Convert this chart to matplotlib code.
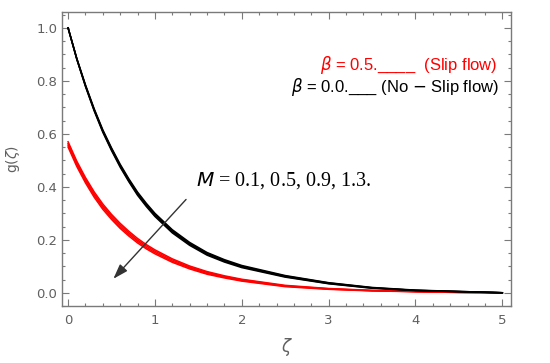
import matplotlib
matplotlib.use("Agg")
import matplotlib.pyplot as plt
from matplotlib.ticker import MultipleLocator

# values
zeta = [0.0, 0.1, 0.2, 0.3, 0.4, 0.5, 0.6, 0.7, 0.8, 0.9, 1.0,
        1.2, 1.4, 1.6, 1.8, 2.0, 2.5, 3.0, 3.5, 4.0, 4.5, 5.0]
m_values = [0.1, 0.5, 0.9, 1.3]

# beta = 0.0 (no-slip flow), one list per M
g_noslip = [
    [1.0, .885, .785, .695, .615, .547, .485, .430, .380, .338, .300,
     .238, .190, .152, .125, .103, .065, .038, .020, .010, .005, 0.0],
    [1.0, .884, .783, .692, .612, .544, .481, .426, .376, .334, .296,
     .234, .186, .149, .122, .100, .063, .037, .019, .009, .005, 0.0],
    [1.0, .883, .781, .690, .609, .540, .478, .422, .372, .330, .292,
     .230, .183, .145, .119, .098, .061, .035, .018, .009, .004, 0.0],
    [1.0, .882, .779, .687, .606, .537, .474, .419, .368, .326, .288,
     .226, .179, .142, .116, .095, .059, .034, .017, .008, .004, 0.0],
]

# beta = 0.5 (slip flow), one list per M
g_slip = [
    [.570, .497, .435, .381, .335, .296, .262, .232, .205, .182, .162,
     .128, .101, .080, .064, .051, .028, .016, .009, .005, .002, 0.0],
    [.563, .490, .428, .374, .328, .290, .256, .226, .199, .177, .157,
     .124, .097, .077, .061, .049, .026, .015, .008, .005, .002, 0.0],
    [.557, .484, .422, .368, .322, .283, .249, .220, .194, .171, .152,
     .119, .094, .073, .059, .046, .025, .014, .008, .004, .001, 0.0],
    [.550, .477, .415, .361, .315, .277, .243, .214, .188, .166, .147,
     .115, .090, .070, .056, .044, .023, .013, .007, .004, .001, 0.0],
]

x_ticks = [0, 1, 2, 3, 4, 5]
y_ticks = [0.0, 0.2, 0.4, 0.6, 0.8, 1.0]

grey = "#7a7a7a"
label_grey = "#606060"

fig = plt.figure(figsize=(5.5, 3.63), dpi=100)
ax = fig.add_axes([62 / 550, 57 / 363, 449 / 550, 294 / 363])

for g in g_slip:
    ax.plot(zeta, g, color="red", lw=1.1)
for g in g_noslip:
    ax.plot(zeta, g, color="black", lw=1.1)

ax.set_xlim(-0.07, 5.1)
ax.set_ylim(-0.05, 1.06)

ax.set_xticks(x_ticks)
ax.set_xticklabels([str(t) for t in x_ticks])
ax.set_yticks(y_ticks)
ax.set_yticklabels([f"{t:.1f}" for t in y_ticks])
ax.xaxis.set_minor_locator(MultipleLocator(0.2))
ax.yaxis.set_minor_locator(MultipleLocator(0.05))

ax.tick_params(which="both", direction="in", top=True, right=True,
               color=grey, width=0.8, labelsize=9.5, labelcolor=label_grey)
ax.tick_params(which="major", length=5)
ax.tick_params(which="minor", length=2.5)
ax.tick_params(axis="x", pad=6)
for sp in ax.spines.values():
    sp.set_color(grey)
    sp.set_linewidth(1.0)

ax.set_xlabel(r"$\zeta$", fontsize=12, color=label_grey, labelpad=6)
ax.set_ylabel(r"g($\zeta$)", fontsize=10, color=label_grey, labelpad=10)

# legend-like annotations
ax.text(4.94, 0.86, r"$\beta$ = 0.5.____  (Slip flow)", color="red",
        fontsize=12, family="Liberation Sans", ha="right", va="center")
ax.text(4.96, 0.775, r"$\beta$ = 0.0.___ (No $-$ Slip flow)", color="black",
        fontsize=12, family="Liberation Sans", ha="right", va="center")

ax.text(1.47, 0.425, r"$M$ = 0.1, 0.5, 0.9, 1.3.", color="black",
        fontsize=14.5, family="Liberation Serif", ha="left", va="center")

ax.annotate("", xy=(0.5, 0.045), xytext=(1.38, 0.36),
            arrowprops=dict(arrowstyle="-|>,head_length=0.9,head_width=0.3",
                            color="#333333", lw=1.0))

fig.savefig("out.png", dpi=100)
